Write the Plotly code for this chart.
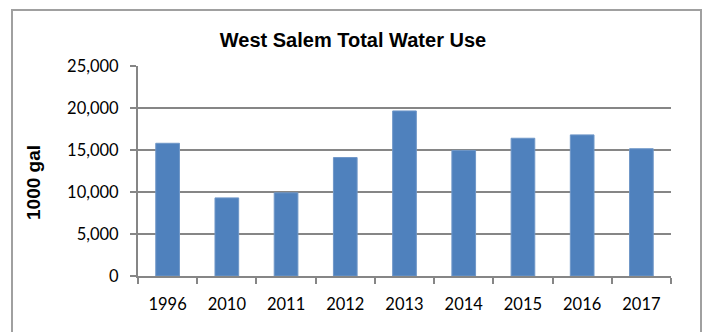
import plotly.graph_objects as go

years = ["1996", "2010", "2011", "2012", "2013", "2014", "2015", "2016", "2017"]
water_use = [15800, 9300, 9900, 14100, 19650, 14950, 16400, 16800, 15150]
y_ticks = [0, 5000, 10000, 15000, 20000, 25000]
y_tick_labels = ["0", "5,000", "10,000", "15,000", "20,000", "25,000"]

W, H = 708, 332
L, R, T, B = 138, 37, 66, 56
pw, ph = W - L - R, H - T - B

def px(x):
    return (x - L) / pw

def py(y):
    return (H - B - y) / ph

fig = go.Figure()
fig.add_trace(go.Bar(
    x=years, y=water_use,
    marker=dict(color="#4F81BD", line=dict(color="#6F97C8", width=1)),
    hoverinfo="x+y",
))

fig.update_layout(
    width=W, height=H,
    margin=dict(l=L, r=R, t=T, b=B, pad=0),
    paper_bgcolor="white", plot_bgcolor="white",
    bargap=0.6,
    showlegend=False,
    title=dict(
        text="<b>West Salem Total Water Use</b>",
        x=353 / W, xanchor="center", y=1 - 40 / H, yanchor="middle",
        font=dict(family="Liberation Sans, Arial", size=20, color="black"),
    ),
    font=dict(family="Lato", size=16, color="black"),
)

fig.update_xaxes(
    type="category",
    showline=True, linecolor="#868686", linewidth=2,
    ticks="outside", tickson="boundaries", ticklen=6, tickcolor="#868686", tickwidth=2,
    showgrid=False,
    tickfont=dict(family="Lato", size=16.5, color="black"),
    ticklabelstandoff=12,
)
fig.update_yaxes(
    range=[0, 25000],
    tickvals=y_ticks, ticktext=y_tick_labels,
    showline=True, linecolor="#868686", linewidth=2,
    ticks="outside", ticklen=6, tickcolor="#868686", tickwidth=2,
    showgrid=True, gridcolor="#868686", gridwidth=2,
    zeroline=False,
    tickfont=dict(family="Lato", size=16.5, color="black"),
    ticklabelstandoff=8,
)

# y-axis title
fig.add_annotation(
    text="<b>1000 gal</b>", textangle=-90,
    xref="paper", yref="paper", x=px(33), y=py(183),
    xanchor="center", yanchor="middle", showarrow=False,
    font=dict(family="Liberation Sans, Arial", size=19, color="black"),
)

# outer chart border
fig.add_shape(
    type="rect", xref="paper", yref="paper",
    x0=px(12), x1=px(701), y0=py(345), y1=py(10),
    line=dict(color="#A0A0A0", width=2), fillcolor="rgba(0,0,0,0)", layer="below",
)

fig.write_html("out.html")
